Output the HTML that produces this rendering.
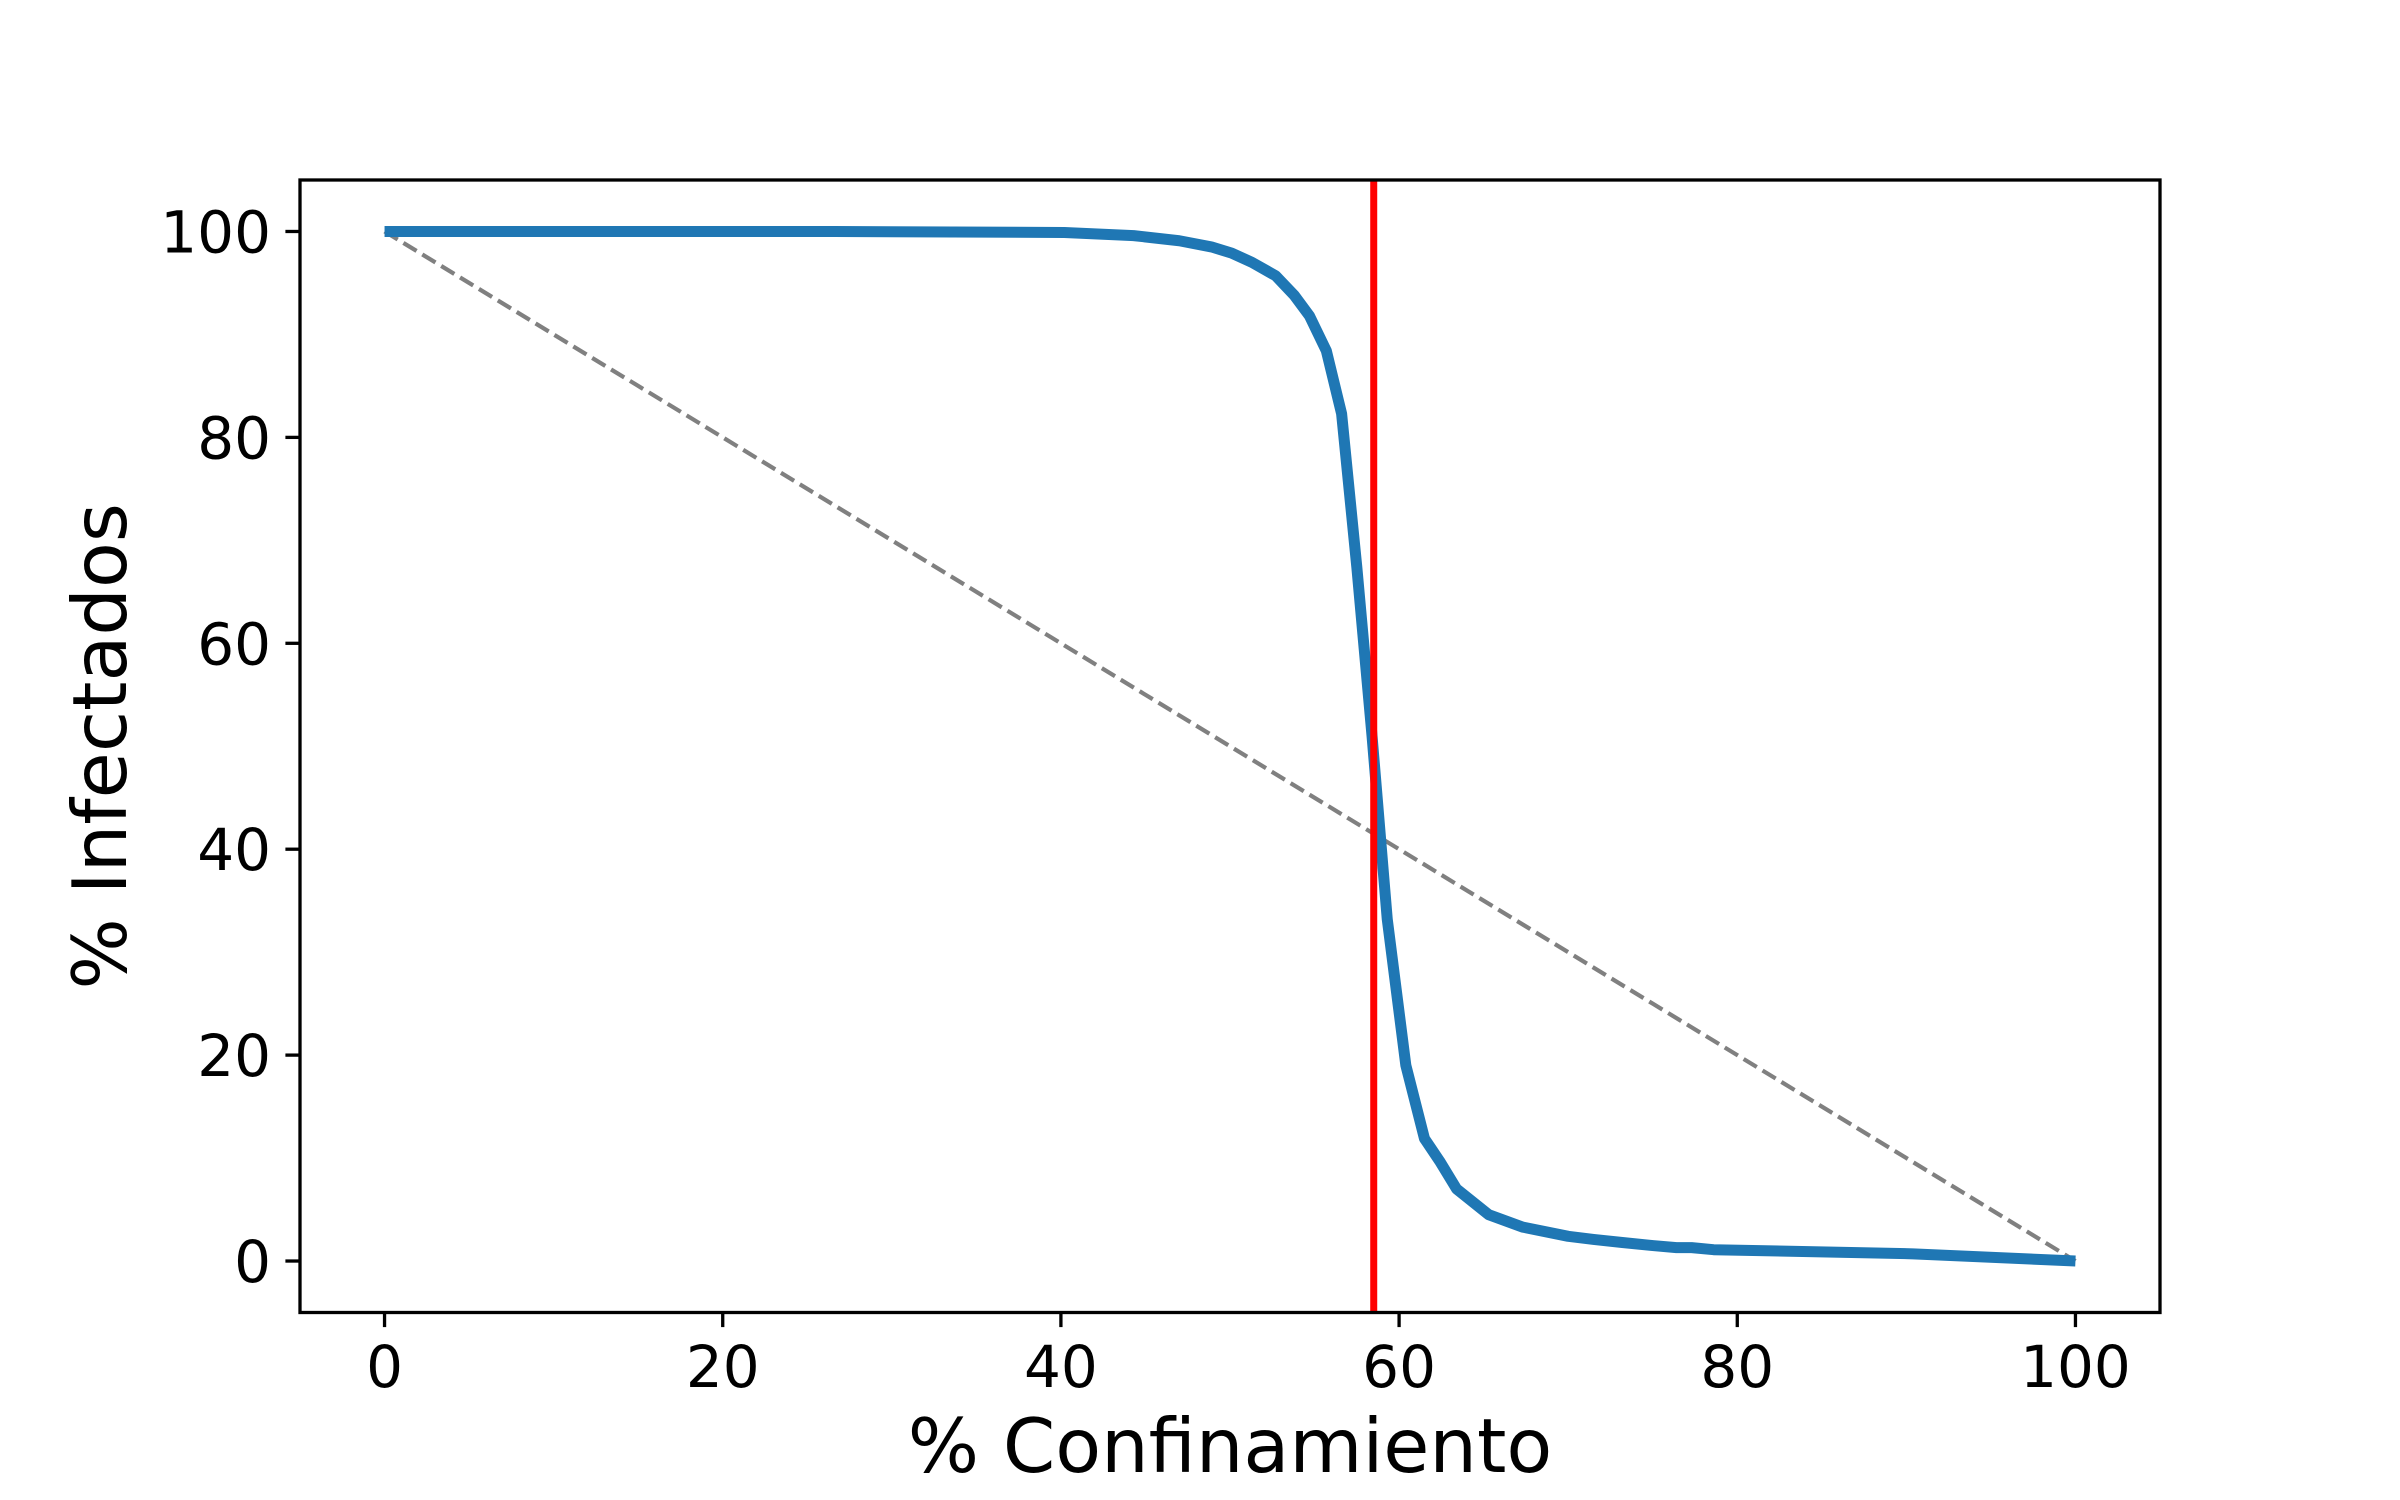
<!DOCTYPE html>
<html><head><meta charset="utf-8"><style>
html,body{margin:0;padding:0;background:#fff}
svg{display:block}
text{font-family:"DejaVu Sans","Liberation Sans",sans-serif;fill:#000}
</style></head><body>
<svg id="chart" width="2400" height="1500" viewBox="0 0 2400 1500" xmlns="http://www.w3.org/2000/svg">
<rect width="2400" height="1500" fill="#fff"/>
<g id="plot"></g>
</svg>
<script>
const xValues = [0,26.6,40.2,44.3,47,48.9,50.1,51.3,52.7,53.8,54.7,55.7,56.6,57.5,58.4,59.3,60.4,61.5,62.4,63.4,65.3,67.3,70,71.5,73.2,75,76.4,77.3,78.6,90.4,100];
const yValues = [100,100,99.9,99.6,99.1,98.5,97.9,97,95.7,93.8,91.8,88.4,82.3,67.4,51,33.2,19,11.9,9.7,7,4.5,3.3,2.4,2.1,1.8,1.5,1.3,1.3,1.1,0.7,0];
const refX = [0,100];
const refY = [100,0];
const thresholdX = [58.5];
const xTicks = [0,20,40,60,80,100];
const yTicks = [0,20,40,60,80,100];
const xTickLabels = ["0","20","40","60","80","100"];
const yTickLabels = ["0","20","40","60","80","100"];

const L=300,R=2160,T=180,B=1312.5;
const xMin=-5,xMax=105,yMin=-5,yMax=105;
function sx(v){return L+(v-xMin)/(xMax-xMin)*(R-L);}
function sy(v){return B-(v-yMin)/(yMax-yMin)*(B-T);}
const NS="http://www.w3.org/2000/svg";
const g=document.getElementById('plot');
function mk(tag,attrs,parent){const e=document.createElementNS(NS,tag);for(const k in attrs)e.setAttribute(k,attrs[k]);(parent||g).appendChild(e);return e;}

const defs=mk('defs',{});
const cp=mk('clipPath',{id:'clip'},defs);
mk('rect',{x:L,y:T,width:R-L,height:B-T},cp);

let d=refX.map((v,i)=>(i?'L':'M')+sx(v)+' '+sy(refY[i])).join(' ');
const ref=mk('path',{d:d,fill:'none',stroke:'#808080','stroke-width':4.2,'stroke-dasharray':'15.4 6.7','clip-path':'url(#clip)'});



d=xValues.map((v,i)=>(i?'L':'M')+sx(v).toFixed(2)+' '+sy(yValues[i]).toFixed(2)).join(' ');
const ser=mk('path',{d:d,fill:'none',stroke:'#1f77b4','stroke-width':11,'stroke-linejoin':'round','stroke-linecap':'butt','clip-path':'url(#clip)'});



thresholdX.forEach(v=>{
  const ln=mk('line',{x1:sx(v),x2:sx(v),y1:T,y2:B,stroke:'#ff0000','stroke-width':7});
  
  
});

const fr=mk('rect',{x:L,y:T,width:R-L,height:B-T,fill:'none',stroke:'#000','stroke-width':3.3});



xTicks.forEach((v,i)=>{
  const t=mk('line',{x1:sx(v),x2:sx(v),y1:B,y2:B+14.6,stroke:'#000','stroke-width':3.3});
  
  
  const tx=mk('text',{x:sx(v),y:1387,'font-size':58,'text-anchor':'middle'});
  tx.textContent=xTickLabels[i];
  
  
});
yTicks.forEach((v,i)=>{
  const t=mk('line',{x1:L-14.6,x2:L,y1:sy(v),y2:sy(v),stroke:'#000','stroke-width':3.3});
  
  
  const tx=mk('text',{x:271,y:sy(v)+21,'font-size':58,'text-anchor':'end'});
  tx.textContent=yTickLabels[i];
  
  
});

const xl=mk('text',{x:(L+R)/2,y:1472,'font-size':75,'text-anchor':'middle'});
xl.textContent='% Confinamiento';


const yl=mk('text',{x:0,y:0,'font-size':75,'text-anchor':'middle',transform:'translate(126,'+((T+B)/2)+') rotate(-90)'});
yl.textContent='% Infectados';


</script>
</body></html>
